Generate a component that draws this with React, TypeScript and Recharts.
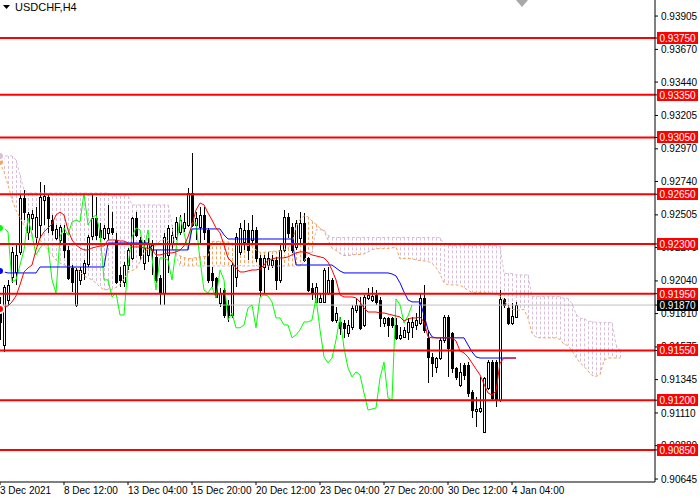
import React from 'react';
import { ComposedChart, Bar, Line, XAxis, YAxis, ReferenceLine } from 'recharts';

// USDCHF H4, 3 Dec 2021 -> 4 Jan 2022, one entry per bar
const opens = [
  0.91814, 0.91589, 0.91906, 0.92068, 0.92103, 0.92244, 0.92624, 0.92385, 0.92483, 0.9235,
  0.92434, 0.9261, 0.92631, 0.92469, 0.92343, 0.92328, 0.92378, 0.92258, 0.92131, 0.91871,
  0.92047, 0.92096, 0.92159, 0.92357, 0.92483, 0.92399, 0.92343, 0.92378, 0.92413, 0.92328,
  0.92082, 0.92033, 0.92152, 0.92202, 0.92483, 0.92328, 0.92166, 0.92223, 0.92258, 0.92209,
  0.92061, 0.91955, 0.92223, 0.92307, 0.9235, 0.92385, 0.92413, 0.92434, 0.92659, 0.92434,
  0.9242, 0.92504, 0.92399, 0.92096, 0.92061, 0.91885, 0.91976, 0.91871, 0.918, 0.92068,
  0.92244, 0.92314, 0.92399, 0.92328, 0.92399, 0.92202, 0.92138, 0.92152, 0.92152, 0.92187,
  0.92047, 0.92258, 0.9249, 0.9242, 0.92279, 0.92343, 0.92448, 0.92202, 0.91991, 0.91892,
  0.91892, 0.91892, 0.91955, 0.92047, 0.91765, 0.91751, 0.91744, 0.91674, 0.91716, 0.91835,
  0.91871, 0.9173, 0.9192, 0.91906, 0.91941, 0.91906, 0.91744, 0.91779, 0.91779, 0.9173,
  0.91639, 0.91646, 0.91681, 0.91716, 0.9173, 0.91744, 0.9192, 0.91639, 0.91505, 0.91434,
  0.91497, 0.91624, 0.91786, 0.91674, 0.91427, 0.91307, 0.91448, 0.91448, 0.91258, 0.91124,
  0.91124, 0.90977, 0.91286, 0.91469, 0.91469, 0.91202, 0.91913, 0.91849, 0.91744, 0.91786,
];
const highs = [
  0.91927, 0.92012, 0.92047, 0.92279, 0.92293, 0.92645, 0.9268, 0.92525, 0.92539, 0.92561,
  0.92737, 0.92716, 0.92645, 0.92504, 0.92434, 0.92434, 0.92434, 0.92286, 0.92152, 0.92131,
  0.92138, 0.92187, 0.92364, 0.92645, 0.92631, 0.92448, 0.92434, 0.92575, 0.92525, 0.92378,
  0.92138, 0.92173, 0.92272, 0.9249, 0.92525, 0.9235, 0.92328, 0.92343, 0.92328, 0.92258,
  0.92082, 0.92378, 0.92434, 0.92413, 0.9249, 0.92504, 0.92518, 0.92695, 0.92941, 0.92525,
  0.92561, 0.92561, 0.92413, 0.92138, 0.92068, 0.91991, 0.91991, 0.91906, 0.92166, 0.92378,
  0.92448, 0.92469, 0.92448, 0.92504, 0.9242, 0.92223, 0.92223, 0.92244, 0.92223, 0.92209,
  0.92293, 0.92539, 0.92518, 0.92448, 0.92469, 0.92525, 0.92518, 0.92209, 0.92026, 0.92026,
  0.91955, 0.92131, 0.92138, 0.92061, 0.91857, 0.91786, 0.91765, 0.91765, 0.91871, 0.9192,
  0.91927, 0.91941, 0.91991, 0.91998, 0.91976, 0.91927, 0.91786, 0.91786, 0.91786, 0.91779,
  0.91716, 0.91716, 0.91779, 0.91786, 0.91814, 0.91955, 0.92012, 0.91695, 0.91533, 0.91505,
  0.91639, 0.918, 0.918, 0.91681, 0.91434, 0.91462, 0.91462, 0.91469, 0.91272, 0.91223,
  0.91364, 0.91364, 0.91483, 0.91483, 0.91483, 0.91976, 0.9192, 0.91871, 0.91885, 0.91892,
];
const lows = [
  0.91624, 0.9154, 0.91871, 0.92026, 0.92012, 0.92223, 0.92469, 0.92328, 0.92399, 0.92307,
  0.92343, 0.92434, 0.92378, 0.92364, 0.92328, 0.92307, 0.92202, 0.92047, 0.91962, 0.91857,
  0.92012, 0.92047, 0.92138, 0.92328, 0.92328, 0.92314, 0.92328, 0.92328, 0.92364, 0.92019,
  0.91998, 0.91998, 0.92117, 0.92187, 0.9235, 0.92187, 0.92117, 0.92173, 0.92082, 0.92026,
  0.91871, 0.91871, 0.92096, 0.92258, 0.92328, 0.92364, 0.92385, 0.9242, 0.9242, 0.92328,
  0.92293, 0.92328, 0.92026, 0.91998, 0.9192, 0.91857, 0.91779, 0.91751, 0.91779, 0.91998,
  0.92223, 0.92258, 0.92187, 0.92307, 0.92173, 0.91927, 0.91955, 0.92117, 0.92131, 0.91976,
  0.92026, 0.92244, 0.92343, 0.92237, 0.92258, 0.92307, 0.92173, 0.91962, 0.91906, 0.91885,
  0.91885, 0.91885, 0.91941, 0.91751, 0.91744, 0.9166, 0.91639, 0.91646, 0.91695, 0.91814,
  0.91695, 0.91716, 0.91906, 0.91892, 0.91871, 0.91716, 0.91716, 0.91646, 0.91709, 0.91624,
  0.91624, 0.91639, 0.91624, 0.91639, 0.91695, 0.9173, 0.91674, 0.91321, 0.91364, 0.91392,
  0.91483, 0.91603, 0.91364, 0.91392, 0.91342, 0.91293, 0.91342, 0.91223, 0.91075, 0.91012,
  0.9111, 0.9097, 0.91272, 0.91202, 0.91152, 0.91188, 0.91849, 0.9173, 0.9173, 0.91779,
];
const closes = [
  0.91751, 0.91998, 0.92012, 0.92244, 0.92223, 0.92624, 0.92525, 0.92511, 0.92511, 0.9249,
  0.92631, 0.92638, 0.92483, 0.92399, 0.92406, 0.9242, 0.92258, 0.92061, 0.92033, 0.92117,
  0.92117, 0.92166, 0.9235, 0.92483, 0.92364, 0.9235, 0.92413, 0.92413, 0.92385, 0.92033,
  0.92047, 0.92152, 0.92258, 0.92483, 0.92364, 0.92223, 0.92272, 0.92307, 0.92293, 0.92047,
  0.91955, 0.9235, 0.92413, 0.92364, 0.92455, 0.92469, 0.92455, 0.92659, 0.92434, 0.92483,
  0.92504, 0.92385, 0.92047, 0.92047, 0.91927, 0.91955, 0.918, 0.918, 0.92152, 0.9235,
  0.92413, 0.92399, 0.92258, 0.92399, 0.92202, 0.91976, 0.92202, 0.92202, 0.92187, 0.92047,
  0.92258, 0.9249, 0.92378, 0.92258, 0.92448, 0.92448, 0.92187, 0.91976, 0.91955, 0.91998,
  0.9192, 0.92117, 0.92047, 0.91765, 0.91814, 0.9171, 0.9171, 0.9173, 0.91849, 0.91871,
  0.9171, 0.91927, 0.91941, 0.91934, 0.91892, 0.91779, 0.91779, 0.9173, 0.9173, 0.91639,
  0.9166, 0.91695, 0.91751, 0.91751, 0.91765, 0.9192, 0.91695, 0.91505, 0.91462, 0.91497,
  0.91624, 0.91786, 0.91568, 0.91427, 0.91364, 0.91399, 0.91378, 0.91251, 0.91131, 0.91138,
  0.91145, 0.91356, 0.91469, 0.91216, 0.91202, 0.91913, 0.91871, 0.91744, 0.91793, 0.9187,
];

// Ichimoku lines
const tenkan = [
  0.91842, 0.91857, 0.91864, 0.91892, 0.91934, 0.92012, 0.92103, 0.92131, 0.92152, 0.92258,
  0.92343, 0.92385, 0.92413, 0.92441, 0.92504, 0.92525, 0.92504, 0.92399, 0.92328, 0.92293,
  0.92272, 0.92258, 0.92258, 0.92272, 0.92279, 0.92286, 0.92286, 0.92328, 0.92328, 0.92328,
  0.92321, 0.92321, 0.92307, 0.92279, 0.92279, 0.92279, 0.92272, 0.92272, 0.92258, 0.92223,
  0.92223, 0.9223, 0.92237, 0.92237, 0.92244, 0.92258, 0.92286, 0.9235, 0.92434, 0.92539,
  0.92589, 0.92575, 0.92518, 0.92469, 0.92413, 0.92378, 0.92293, 0.92202, 0.92173, 0.92131,
  0.92103, 0.92103, 0.9211, 0.92117, 0.92117, 0.92124, 0.92152, 0.92187, 0.92194, 0.92202,
  0.92202, 0.92202, 0.92209, 0.92223, 0.92237, 0.92244, 0.92244, 0.92237, 0.92223, 0.92216,
  0.92209, 0.92202, 0.92173, 0.92117, 0.92047, 0.91941, 0.91927, 0.91927, 0.91927, 0.9192,
  0.91892, 0.91849, 0.91821, 0.91821, 0.91821, 0.91814, 0.91814, 0.91807, 0.918, 0.91793,
  0.91786, 0.91758, 0.91772, 0.91779, 0.91779, 0.91786, 0.91751, 0.91646, 0.91639, 0.91639,
  0.91639, 0.91639, 0.91639, 0.91639, 0.91617, 0.91547, 0.91533, 0.91505, 0.91462, 0.9142,
  0.91378, 0.91314, 0.91251, 0.91237, 0.91265, 0.91462, 0.91497, 0.91497, 0.91497, 0.91497,
];
const kijun = [
  0.9211, 0.92103, 0.92096, 0.92096, 0.92096, 0.92096, 0.92096, 0.92096, 0.92096, 0.92096,
  0.92138, 0.92138, 0.92138, 0.92138, 0.92138, 0.92138, 0.92138, 0.92138, 0.92138, 0.92138,
  0.92138, 0.92138, 0.92138, 0.92138, 0.92138, 0.92138, 0.92138, 0.92307, 0.92307, 0.92307,
  0.92307, 0.92307, 0.92307, 0.92307, 0.92307, 0.92307, 0.92307, 0.92307, 0.92258, 0.92258,
  0.92258, 0.92258, 0.92258, 0.92258, 0.92258, 0.92258, 0.92258, 0.92258, 0.92406, 0.92406,
  0.92406, 0.92406, 0.92406, 0.92406, 0.92406, 0.92406, 0.92364, 0.92335, 0.92335, 0.92335,
  0.92335, 0.92335, 0.92335, 0.92335, 0.92335, 0.92335, 0.92335, 0.92335, 0.92335, 0.92335,
  0.92335, 0.92335, 0.92335, 0.92335, 0.92152, 0.92152, 0.92152, 0.92152, 0.92152, 0.92152,
  0.92152, 0.92152, 0.92152, 0.92152, 0.92131, 0.9211, 0.92096, 0.92096, 0.92096, 0.92096,
  0.92096, 0.92096, 0.92096, 0.92096, 0.92096, 0.92096, 0.92096, 0.92096, 0.92089, 0.92075,
  0.92026, 0.91962, 0.91906, 0.91892, 0.91892, 0.91892, 0.918, 0.91695, 0.91646, 0.91639,
  0.91639, 0.91639, 0.91639, 0.91639, 0.91639, 0.91639, 0.91639, 0.91589, 0.9154, 0.91505,
  0.91497, 0.91497, 0.91497, 0.91497, 0.91497, 0.91497, 0.91497, 0.91497, 0.91497, 0.91497,
];
// the cloud runs 26 bars past the last candle
const spanA = [
  0.92877, 0.92807, 0.92716, 0.9261, 0.92539, 0.92483, 0.92434, 0.92385, 0.9235, 0.92343,
  0.92328, 0.92293, 0.92258, 0.92223, 0.92187, 0.92166, 0.92152, 0.92145, 0.92138, 0.92131,
  0.92103, 0.92075, 0.92061, 0.92047, 0.92026, 0.91998, 0.91976, 0.9198, 0.9198, 0.91994,
  0.92015, 0.92054, 0.921, 0.92114, 0.92124, 0.92177, 0.92241, 0.92262, 0.92276, 0.9229,
  0.92321, 0.92332, 0.92321, 0.92269, 0.92233, 0.92216, 0.92205, 0.92198, 0.92198, 0.92205,
  0.92209, 0.92212, 0.92212, 0.92318, 0.92318, 0.92318, 0.92314, 0.92314, 0.92307, 0.92293,
  0.92293, 0.92293, 0.9229, 0.9229, 0.92258, 0.92241, 0.92241, 0.92244, 0.92248, 0.92248,
  0.92251, 0.92258, 0.92272, 0.92304, 0.9242, 0.92473, 0.92498, 0.92491, 0.92462, 0.92438,
  0.9241, 0.92392, 0.92329, 0.92269, 0.92254, 0.92233, 0.92219, 0.92219, 0.92223, 0.92226,
  0.92226, 0.9223, 0.92244, 0.92261, 0.92265, 0.92269, 0.92269, 0.92269, 0.92272, 0.92279,
  0.92195, 0.92198, 0.92198, 0.92195, 0.92188, 0.92184, 0.92181, 0.92177, 0.92163, 0.92135,
  0.92089, 0.92026, 0.92012, 0.92012, 0.92012, 0.92008, 0.91994, 0.91973, 0.91959, 0.91959,
  0.91959, 0.91955, 0.91955, 0.91952, 0.91945, 0.91934, 0.91906, 0.9186, 0.91839, 0.91836,
  0.91836, 0.91839, 0.91776, 0.91671, 0.91643, 0.91639, 0.91639, 0.91639, 0.91639, 0.91639,
  0.91628, 0.91593, 0.91586, 0.91547, 0.91501, 0.91463, 0.91438, 0.91406, 0.91374, 0.91367,
  0.91381, 0.9148, 0.91497, 0.91497, 0.91497, 0.91497,
];
const spanB = [
  0.9292, 0.9292, 0.9292, 0.9292, 0.92891, 0.92786, 0.9268, 0.92659, 0.92659, 0.92659,
  0.92659, 0.92659, 0.92659, 0.92659, 0.92659, 0.92659, 0.92659, 0.92659, 0.92659, 0.92659,
  0.92659, 0.92659, 0.92659, 0.92659, 0.92659, 0.92659, 0.92659, 0.92659, 0.92638, 0.92638,
  0.92638, 0.92638, 0.92638, 0.92575, 0.92575, 0.92575, 0.92575, 0.92575, 0.92575, 0.92575,
  0.92575, 0.92575, 0.92575, 0.92434, 0.92223, 0.92145, 0.92145, 0.92145, 0.92145, 0.92145,
  0.92145, 0.92145, 0.92145, 0.92145, 0.92145, 0.92145, 0.92145, 0.92145, 0.92145, 0.92145,
  0.92145, 0.92145, 0.92145, 0.92145, 0.92145, 0.92145, 0.92145, 0.92145, 0.92145, 0.92145,
  0.92145, 0.92145, 0.92145, 0.92145, 0.92145, 0.92145, 0.92173, 0.92241, 0.92241, 0.92399,
  0.92399, 0.92399, 0.9236, 0.92346, 0.92346, 0.92346, 0.92346, 0.92346, 0.92346, 0.92346,
  0.92346, 0.92346, 0.92346, 0.92346, 0.92346, 0.92346, 0.92346, 0.92346, 0.92346, 0.92346,
  0.92346, 0.92346, 0.92346, 0.92346, 0.92346, 0.92346, 0.92346, 0.92346, 0.92346, 0.92346,
  0.92343, 0.92301, 0.9229, 0.9229, 0.9229, 0.9229, 0.9229, 0.9229, 0.9229, 0.9229,
  0.9229, 0.9229, 0.9229, 0.9229, 0.9229, 0.92283, 0.92093, 0.92093, 0.92093, 0.92082,
  0.92082, 0.92082, 0.92082, 0.9193, 0.9193, 0.9193, 0.9193, 0.9193, 0.9193, 0.9193,
  0.9193, 0.91916, 0.91916, 0.91881, 0.91807, 0.91776, 0.91776, 0.91755, 0.91755, 0.91748,
  0.91748, 0.91748, 0.91748, 0.91744, 0.9159, 0.91554,
];

const LEVELS = [0.9375, 0.9335, 0.9305, 0.9265, 0.923, 0.9195, 0.9155, 0.912, 0.9085];
const LAST_PRICE = 0.9187;
const PRICE_TICKS = [
  0.93905, 0.9367, 0.9344, 0.93205, 0.9297, 0.9274, 0.92505, 0.92275, 0.9204, 0.9181,
  0.91575, 0.91345, 0.9111, 0.9088, 0.90645,
];
const TIME_TICKS = [0, 16, 32, 48, 64, 80, 96, 112, 128];
const TIME_LABELS = [
  '3 Dec 2021', '8 Dec 12:00', '13 Dec 04:00', '15 Dec 20:00', '20 Dec 12:00',
  '23 Dec 04:00', '27 Dec 20:00', '30 Dec 12:00', '4 Jan 04:00',
];

const SHIFT = 26;
const FONT = 'Liberation Sans, Arial, sans-serif';

// price tags go last so they sit on top of the plain tick labels
const AXIS_TICKS = [...PRICE_TICKS, LAST_PRICE, ...LEVELS];

const rows = spanA.map((a, i) => {
  const b = spanB[i];
  const has = i < closes.length;
  return {
    i,
    hl: has ? [lows[i], highs[i]] : null,
    o: opens[i],
    h: highs[i],
    l: lows[i],
    c: closes[i],
    tenkan: has ? tenkan[i] : null,
    kijun: has ? kijun[i] : null,
    chikou: i + SHIFT < closes.length ? closes[i + SHIFT] : null,
    spanA: a,
    spanB: b,
    kumo: [Math.min(a, b), Math.max(a, b)],
  };
});

function Candle(props: any) {
  const { x, y, width, height, payload } = props;
  if (!payload || payload.hl == null) return null;
  const { o, h, l, c } = payload;
  const cx = Math.round(x + width / 2);
  const span = h - l || 1e-9;
  const py = (v: number) => y + ((h - v) / span) * height;
  const top = Math.round(py(Math.max(o, c)));
  const bot = Math.round(py(Math.min(o, c)));
  const bull = c >= o;
  return (
    <g shapeRendering="crispEdges">
      <line x1={cx + 0.5} x2={cx + 0.5} y1={Math.round(y)} y2={Math.round(y + height)} stroke="#000" />
      <rect
        x={cx - 0.5}
        y={top + 0.5}
        width={2}
        height={Math.max(bot - top, 1)}
        fill={bull ? '#fff' : '#000'}
        stroke="#000"
      />
    </g>
  );
}

function KumoHatch(props: any) {
  const { x, y, width, height, payload } = props;
  const cx = Math.round(x + width / 2) + 0.5;
  const color = payload.spanA >= payload.spanB ? '#F4A460' : '#D8BFD8';
  return <line x1={cx} x2={cx} y1={y} y2={y + height} stroke={color} strokeDasharray="3 2" />;
}

function PriceTick(props: any) {
  const { x, y, payload } = props;
  const v = payload.value;
  const text = v.toFixed(5);
  const isLevel = LEVELS.includes(v);
  const isLast = v === LAST_PRICE;
  if (!isLevel && !isLast) {
    return (
      <text x={x} y={y} dy="0.355em" fontSize={10} fontFamily={FONT} fill="#000">
        {text}
      </text>
    );
  }
  const yc = Math.round(y);
  return (
    <g>
      <rect x={x - 4} y={yc - 6} width={41} height={12} fill={isLast ? '#000' : '#FF0000'} />
      <text x={x - 1.5} y={yc + 4} fontSize={10} fontFamily={FONT} fill="#fff">
        {text}
      </text>
    </g>
  );
}

function TimeTick(props: any) {
  const { x, y, payload } = props;
  const k = TIME_TICKS.indexOf(payload.value);
  return (
    <text x={x} y={y} dy="0.71em" textAnchor="start" fontSize={10} fontFamily={FONT} fill="#000">
      {TIME_LABELS[k]}
    </text>
  );
}

export default function App() {
  return (
    <div style={{ position: 'absolute', left: 0, top: 0, width: 700, height: 500, background: '#fff' }}>
      <ComposedChart width={700} height={500} data={rows} margin={{ top: 0, right: 0, bottom: 0, left: 0 }}>
        <XAxis
          dataKey="i"
          type="number"
          domain={[0, 163.75]}
          ticks={TIME_TICKS}
          interval={0}
          height={18}
          tickSize={3}
          tickMargin={2}
          tick={<TimeTick />}
          stroke="#000"
          allowDataOverflow
        />
        <XAxis xAxisId="kumo" dataKey="i" type="number" domain={[0, 163.75]} hide allowDataOverflow />
        <YAxis
          orientation="right"
          width={45}
          type="number"
          domain={[0.90624, 0.94018]}
          ticks={AXIS_TICKS}
          interval={0}
          tickSize={3}
          tickMargin={3}
          tick={<PriceTick />}
          stroke="#000"
          allowDataOverflow
        />
        <Bar xAxisId="kumo" dataKey="kumo" barSize={1} shape={<KumoHatch />} isAnimationActive={false} />
        <Line dataKey="spanA" stroke="#F4A460" strokeDasharray="3 2" dot={false} strokeWidth={1} isAnimationActive={false} />
        <Line dataKey="spanB" stroke="#D8BFD8" strokeDasharray="3 2" dot={false} strokeWidth={1} isAnimationActive={false} />
        <ReferenceLine y={LAST_PRICE} stroke="#C0C0C0" strokeWidth={1} />
        <Bar dataKey="hl" barSize={3} shape={<Candle />} isAnimationActive={false} />
        <Line dataKey="chikou" stroke="#00FF00" dot={false} strokeWidth={1} isAnimationActive={false} />
        <Line dataKey="kijun" stroke="#0000FF" dot={false} strokeWidth={1} isAnimationActive={false} />
        <Line dataKey="tenkan" stroke="#FF0000" dot={false} strokeWidth={1} isAnimationActive={false} />
        {LEVELS.map((lv) => (
          <ReferenceLine key={lv} y={lv} stroke="#FF0000" strokeWidth={2} />
        ))}
      </ComposedChart>
      <div
        style={{
          position: 'absolute',
          left: 3,
          top: 0,
          fontFamily: FONT,
          fontSize: 11,
          color: '#000',
          lineHeight: '14px',
          display: 'flex',
          alignItems: 'center',
          gap: 5,
        }}
      >
        <svg width={7} height={4}>
          <polygon points="0,0 7,0 3.5,4" fill="#000" />
        </svg>
        <span>USDCHF,H4</span>
      </div>
      <svg style={{ position: 'absolute', left: 514, top: 0 }} width={16} height={10}>
        <polygon points="2,0 14,0 8,7" fill="#A8A8A8" />
      </svg>
    </div>
  );
}
